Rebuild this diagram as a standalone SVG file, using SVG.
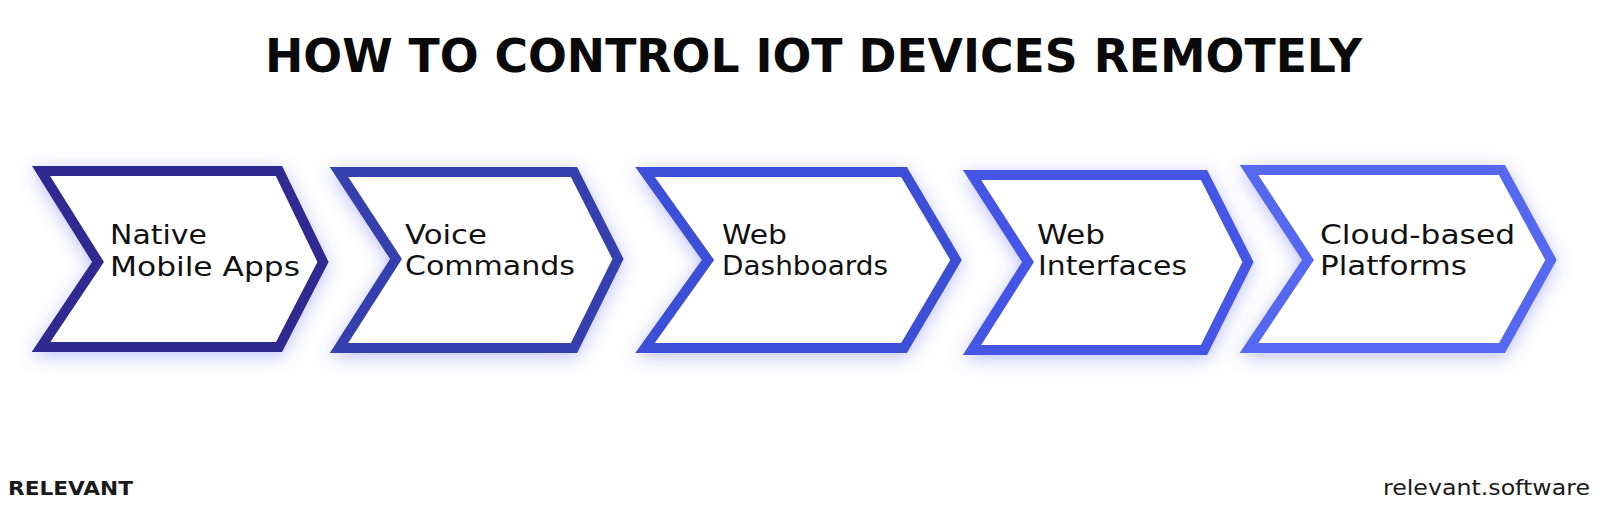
<svg xmlns="http://www.w3.org/2000/svg" width="1600" height="520" viewBox="0 0 1600 520">
  <defs>
    <filter id="glow" x="-20%" y="-30%" width="140%" height="160%">
      <feGaussianBlur in="SourceAlpha" stdDeviation="9" result="b"/>
      <feOffset in="b" dx="0" dy="4" result="o"/>
      <feFlood flood-color="#5c63f0" flood-opacity="0.4"/>
      <feComposite in2="o" operator="in" result="s"/>
      <feMerge><feMergeNode in="s"/><feMergeNode in="SourceGraphic"/></feMerge>
    </filter>
  </defs>
  <style>
    .chev { fill: #ffffff; stroke-width: 10; stroke-linejoin: miter; filter: url(#glow); }
    .lbl { font-family: "DejaVu Sans", "Liberation Sans", sans-serif; font-size: 26px; fill: #111111; }
    .title { font-family: "DejaVu Sans", "Liberation Sans", sans-serif; font-weight: bold; font-size: 47px; fill: #0a0a0a; }
    .brand { font-family: "DejaVu Sans", "Liberation Sans", sans-serif; font-weight: bold; font-size: 20px; fill: #1a1a1a; }
    .site { font-family: "DejaVu Sans", "Liberation Sans", sans-serif; font-size: 21px; fill: #1a1a1a; }
  </style>
  <rect width="1600" height="520" fill="#ffffff"/>
  <text class="title" x="265" y="72" textLength="1097" lengthAdjust="spacingAndGlyphs">HOW TO CONTROL IOT DEVICES REMOTELY</text>

  <g id="connectors"></g>

  <g id="node1">
    <polygon class="chev" stroke="#2f2a8f" points="41,171 279,171 323,262 279,347 41,347 98,262"/>
    <text class="lbl" x="110" y="244" textLength="97" lengthAdjust="spacingAndGlyphs">Native</text>
    <text class="lbl" x="110" y="276" textLength="190" lengthAdjust="spacingAndGlyphs">Mobile Apps</text>
  </g>
  <g id="node2">
    <polygon class="chev" stroke="#3440ae" points="339,172 574,172 618,259 574,348 339,348 396,259"/>
    <text class="lbl" x="405" y="244" textLength="82" lengthAdjust="spacingAndGlyphs">Voice</text>
    <text class="lbl" x="405" y="275" textLength="170" lengthAdjust="spacingAndGlyphs">Commands</text>
  </g>
  <g id="node3">
    <polygon class="chev" stroke="#3e4fd7" points="645,172 904,172 956,260 904,348 645,348 708,260"/>
    <text class="lbl" x="722" y="244" textLength="65" lengthAdjust="spacingAndGlyphs">Web</text>
    <text class="lbl" x="722" y="275" textLength="166" lengthAdjust="spacingAndGlyphs">Dashboards</text>
  </g>
  <g id="node4">
    <polygon class="chev" stroke="#4556e6" points="972,175 1204,175 1248,262 1204,350 972,350 1028,262"/>
    <text class="lbl" x="1037" y="244" textLength="68" lengthAdjust="spacingAndGlyphs">Web</text>
    <text class="lbl" x="1038" y="275" textLength="149" lengthAdjust="spacingAndGlyphs">Interfaces</text>
  </g>
  <g id="node5">
    <polygon class="chev" stroke="#5668ef" points="1249,170 1502,170 1551,260 1502,348 1249,348 1308,260"/>
    <text class="lbl" x="1320" y="244" textLength="195" lengthAdjust="spacingAndGlyphs">Cloud-based</text>
    <text class="lbl" x="1320" y="275" textLength="147" lengthAdjust="spacingAndGlyphs">Platforms</text>
  </g>

  <text class="brand" x="8" y="495" textLength="125" lengthAdjust="spacingAndGlyphs">RELEVANT</text>
  <text class="site" x="1383" y="495" textLength="207" lengthAdjust="spacingAndGlyphs">relevant.software</text>
</svg>
